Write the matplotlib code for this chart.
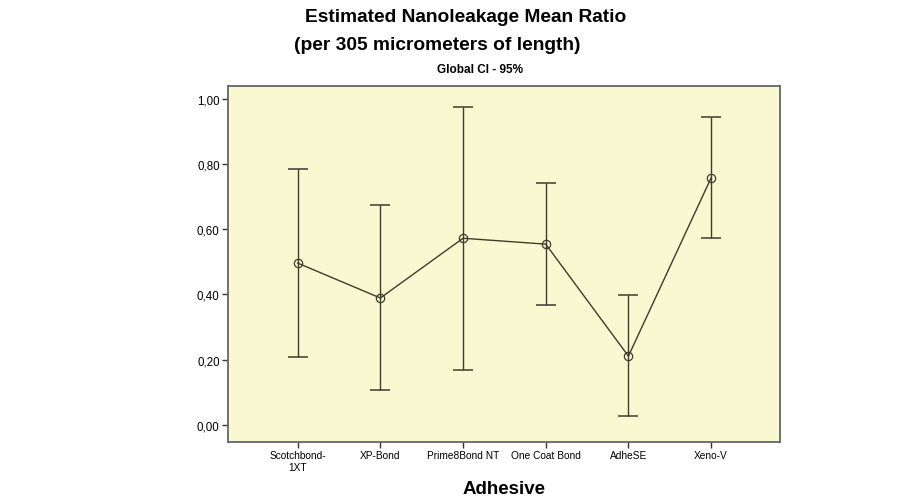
import numpy as np
import matplotlib
matplotlib.use("Agg")
import matplotlib.pyplot as plt

plt.rcParams['font.family'] = ['Liberation Sans', 'DejaVu Sans']

# Data
adhesives = ['Scotchbond-\n1XT', 'XP-Bond', 'Prime8Bond NT', 'One Coat Bond',
             'AdheSE', 'Xeno-V']
mean_ratio = [0.496, 0.389, 0.572, 0.554, 0.211, 0.757]
ci_lower = [0.208, 0.106, 0.169, 0.368, 0.028, 0.574]
ci_upper = [0.784, 0.674, 0.975, 0.741, 0.398, 0.942]
y_ticks = [0.0, 0.2, 0.4, 0.6, 0.8, 1.0]
y_tick_labels = ['0,00', '0,20', '0,40', '0,60', '0,80', '1,00']

x = np.arange(1, len(adhesives) + 1)
mean_ratio = np.array(mean_ratio)
err = [mean_ratio - np.array(ci_lower), np.array(ci_upper) - mean_ratio]

line_col = '#3c3c30'

fig = plt.figure(figsize=(9.12, 5.02), dpi=100)
ax = fig.add_axes([0.25, 0.1175, 0.605, 0.709])
ax.set_facecolor('#faf8d0')

ax.errorbar(x, mean_ratio, yerr=err, fmt='none', ecolor=line_col,
            elinewidth=1.0, capsize=7.2, capthick=1.1)
ax.plot(x, mean_ratio, color=line_col, lw=1.0, marker='o', ms=6,
        mfc='none', mec=line_col, mew=0.9)

ax.set_xlim(0.158, 6.83)
ax.set_ylim(-0.052, 1.038)
ax.set_xticks(x)
ax.set_xticklabels(adhesives, fontsize=7.3, linespacing=1.15)
ax.set_yticks(y_ticks)
ax.set_yticklabels(y_tick_labels, fontsize=8.3)
ax.tick_params(axis='both', length=4, width=1, color='#333333', pad=2)

for s in ax.spines.values():
    s.set_color('#666666')
    s.set_linewidth(1.3)

fig.text(466 / 912, 1 - 18 / 502, 'Estimated Nanoleakage Mean Ratio',
         ha='center', va='center', fontsize=13.8, fontweight='bold')
fig.text(437 / 912, 1 - 46 / 502, '(per 305 micrometers of length)',
         ha='center', va='center', fontsize=13.8, fontweight='bold')
fig.text(480 / 912, 1 - 70 / 502, 'Global CI - 95%',
         ha='center', va='center', fontsize=8.5, fontweight='bold')
fig.text(504 / 912, 1 - 490 / 502, 'Adhesive',
         ha='center', va='center', fontsize=13.5, fontweight='bold')

fig.savefig('out.png', dpi=100, facecolor='white')
